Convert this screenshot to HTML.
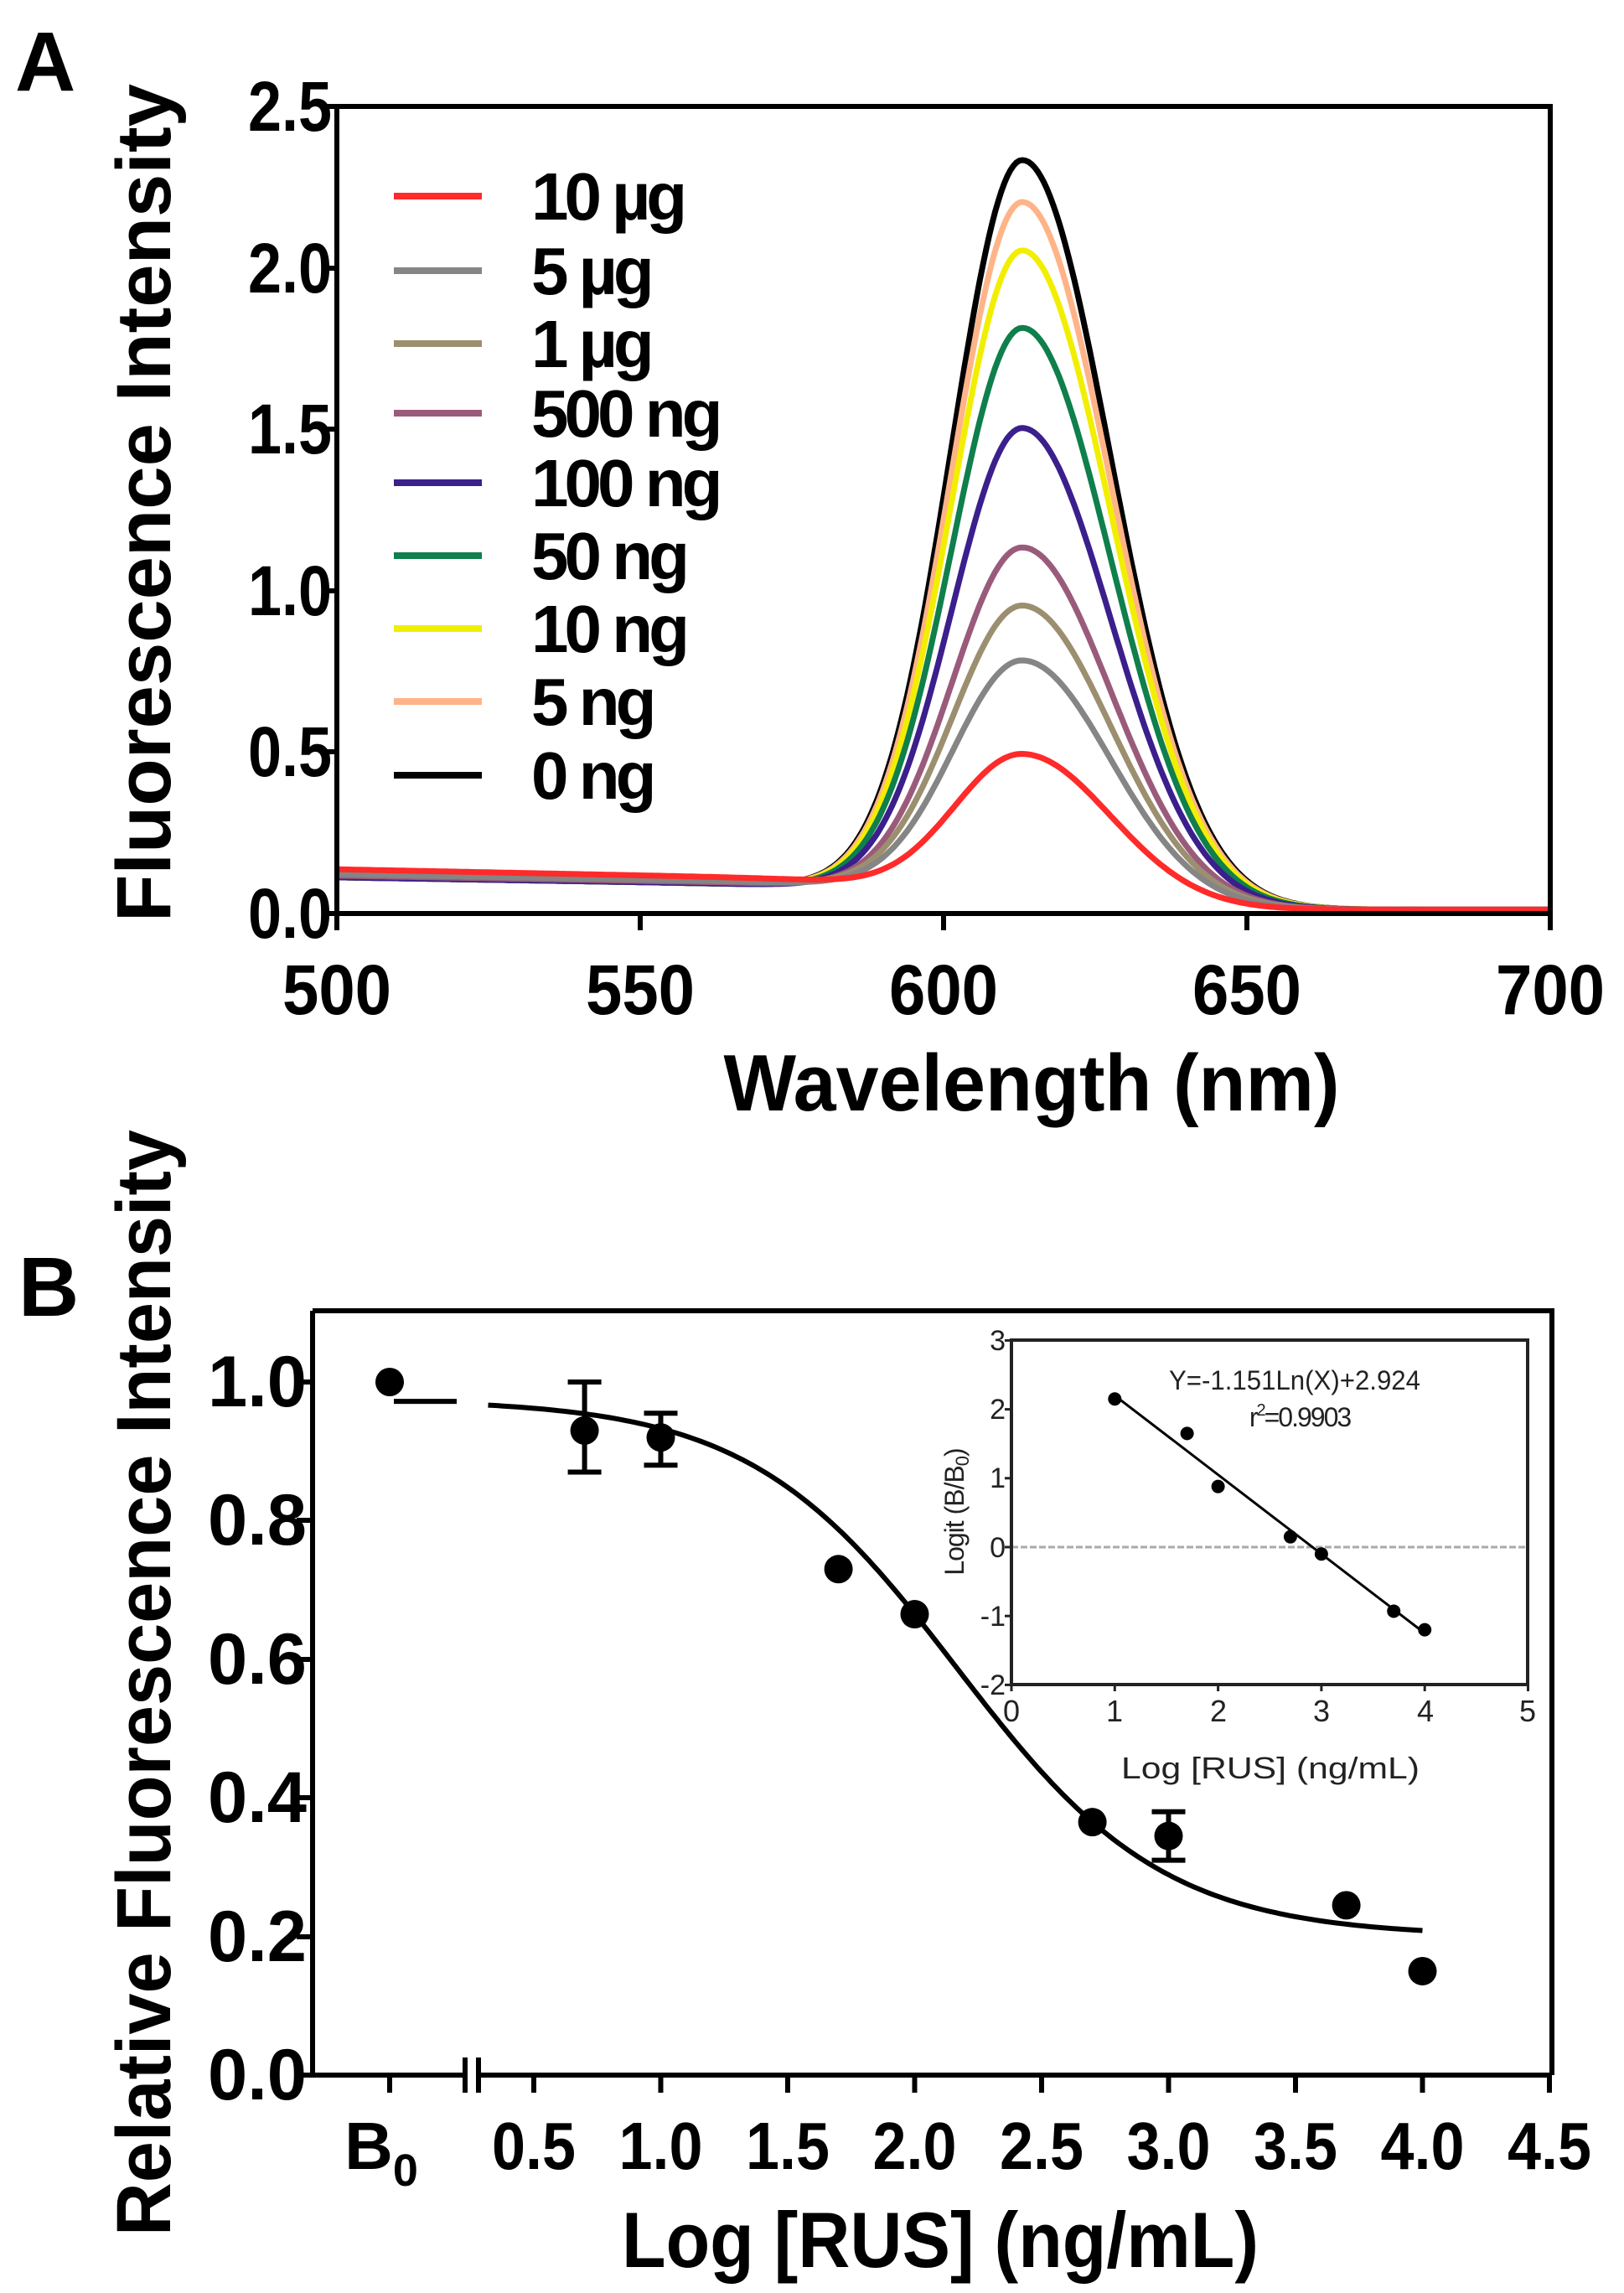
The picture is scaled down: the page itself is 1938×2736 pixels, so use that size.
<!DOCTYPE html>
<html><head><meta charset="utf-8"><style>
html,body{margin:0;padding:0;background:#fff;}
svg{display:block;}
text{font-family:"Liberation Sans",Arial,sans-serif;}
</style></head><body>
<svg id="s" xmlns="http://www.w3.org/2000/svg" width="1938" height="2736" viewBox="0 0 1938 2736">
<rect width="1938" height="2736" fill="#fff"/>
<!-- Panel A -->
<text x="18" y="108" font-size="100" font-weight="bold">A</text>
<g id="specs"></g>
<rect x="402" y="127" width="1448" height="963" fill="none" stroke="#000" stroke-width="6"/>
<g stroke="#000" stroke-width="6">
<line x1="384" y1="127" x2="402" y2="127"/><line x1="384" y1="320" x2="402" y2="320"/><line x1="384" y1="512" x2="402" y2="512"/><line x1="384" y1="705" x2="402" y2="705"/><line x1="384" y1="897" x2="402" y2="897"/><line x1="384" y1="1090" x2="402" y2="1090"/>
<line x1="402" y1="1090" x2="402" y2="1110"/><line x1="764" y1="1090" x2="764" y2="1110"/><line x1="1126" y1="1090" x2="1126" y2="1110"/><line x1="1488" y1="1090" x2="1488" y2="1110"/><line x1="1850" y1="1090" x2="1850" y2="1110"/>
</g>
<g font-size="84" font-weight="bold" text-anchor="end">
<text x="396" y="156" textLength="100" lengthAdjust="spacingAndGlyphs">2.5</text><text x="396" y="349" textLength="100" lengthAdjust="spacingAndGlyphs">2.0</text><text x="396" y="541" textLength="100" lengthAdjust="spacingAndGlyphs">1.5</text><text x="396" y="734" textLength="100" lengthAdjust="spacingAndGlyphs">1.0</text><text x="396" y="926" textLength="100" lengthAdjust="spacingAndGlyphs">0.5</text><text x="396" y="1119" textLength="100" lengthAdjust="spacingAndGlyphs">0.0</text>
</g>
<g font-size="84" font-weight="bold" text-anchor="middle">
<text x="402" y="1210" textLength="130" lengthAdjust="spacingAndGlyphs">500</text><text x="764" y="1210" textLength="130" lengthAdjust="spacingAndGlyphs">550</text><text x="1126" y="1210" textLength="130" lengthAdjust="spacingAndGlyphs">600</text><text x="1488" y="1210" textLength="130" lengthAdjust="spacingAndGlyphs">650</text><text x="1850" y="1210" textLength="130" lengthAdjust="spacingAndGlyphs">700</text>
</g>
<text x="1231" y="1325" font-size="96" font-weight="bold" text-anchor="middle" textLength="735" lengthAdjust="spacingAndGlyphs">Wavelength (nm)</text>
<text transform="translate(203,600) rotate(-90)" font-size="92" font-weight="bold" text-anchor="middle" textLength="1000" lengthAdjust="spacingAndGlyphs">Fluorescence Intensity</text>
<g id="legend" font-size="80" font-weight="bold"></g>

<!-- Panel B -->
<text x="22" y="1570" font-size="100" font-weight="bold">B</text>
<path d="M373,1564 H1852 V2476 M373,1564 V2476 H555 M571,2476 H1852" fill="none" stroke="#000" stroke-width="6"/>
<g stroke="#000" stroke-width="6">
<line x1="555" y1="2455" x2="555" y2="2497"/><line x1="571" y1="2455" x2="571" y2="2497"/>
<line x1="354" y1="2476" x2="373" y2="2476"/><line x1="354" y1="2311" x2="373" y2="2311"/><line x1="354" y1="2145" x2="373" y2="2145"/><line x1="354" y1="1980" x2="373" y2="1980"/><line x1="354" y1="1814" x2="373" y2="1814"/><line x1="354" y1="1649" x2="373" y2="1649"/>
</g>
<g id="bticks" stroke="#000" stroke-width="6"></g>
<g font-size="86" font-weight="bold" text-anchor="end">
<text x="366" y="2505" textLength="118" lengthAdjust="spacingAndGlyphs">0.0</text><text x="366" y="2340" textLength="118" lengthAdjust="spacingAndGlyphs">0.2</text><text x="366" y="2174" textLength="118" lengthAdjust="spacingAndGlyphs">0.4</text><text x="366" y="2009" textLength="118" lengthAdjust="spacingAndGlyphs">0.6</text><text x="366" y="1843" textLength="118" lengthAdjust="spacingAndGlyphs">0.8</text><text x="366" y="1678" textLength="118" lengthAdjust="spacingAndGlyphs">1.0</text>
</g>
<g font-size="80" font-weight="bold" text-anchor="middle" id="bxl">
<text x="455" y="2588">B<tspan font-size="54" dy="20">0</tspan></text>
</g>
<text x="1122" y="2705" font-size="94" font-weight="bold" text-anchor="middle" textLength="760" lengthAdjust="spacingAndGlyphs">Log [RUS] (ng/mL)</text>
<text transform="translate(203,2008) rotate(-90)" font-size="92" font-weight="bold" text-anchor="middle" textLength="1320" lengthAdjust="spacingAndGlyphs">Relative Fluorescence Intensity</text>
<g id="bdata"></g>

<!-- inset -->
<line x1="1207" y1="1846" x2="1823" y2="1846" stroke="#aaa" stroke-width="3" stroke-dasharray="8,3"/>
<rect x="1207" y="1599" width="616" height="411" fill="none" stroke="#222" stroke-width="4"/>
<g id="inset"></g>
<g font-size="34" text-anchor="end" fill="#222">
<text x="1200" y="1611">3</text><text x="1200" y="1693">2</text><text x="1200" y="1775">1</text><text x="1200" y="1858">0</text><text x="1200" y="1940">-1</text><text x="1200" y="2022">-2</text>
</g>
<g font-size="36" text-anchor="middle" fill="#222">
<text x="1207" y="2054">0</text><text x="1330" y="2054">1</text><text x="1454" y="2054">2</text><text x="1577" y="2054">3</text><text x="1701" y="2054">4</text><text x="1823" y="2054">5</text>
</g>
<text x="1516" y="2122" font-size="36" text-anchor="middle" fill="#222" textLength="356" lengthAdjust="spacingAndGlyphs">Log [RUS] (ng/mL)</text>
<text transform="translate(1150,1804) rotate(-90)" font-size="32" text-anchor="middle" fill="#222" letter-spacing="-1">Logit (B/B<tspan font-size="22" dy="6">0</tspan><tspan dy="-6">)</tspan></text>
<text x="1545" y="1658" font-size="32" text-anchor="middle" fill="#222" textLength="300" lengthAdjust="spacingAndGlyphs">Y=-1.151Ln(X)+2.924</text>
<text x="1551" y="1702" font-size="32" text-anchor="middle" fill="#222" letter-spacing="-2">r<tspan font-size="20" dy="-13">2</tspan><tspan dy="13">=0.9903</tspan></text>
</svg>
<script>
var NS="http://www.w3.org/2000/svg";
function el(p,t,a){var e=document.createElementNS(NS,t);for(var k in a)e.setAttribute(k,a[k]);p.appendChild(e);return e;}
var series=[["10 µg","#ff2a2a",0.51,0.125],["5 µg","#858585",0.80,0.11],["1 µg","#9c8f70",0.97,0.11],["500 ng","#9a5b7b",1.15,0.105],["100 ng","#3b1f8c",1.52,0.1],["50 ng","#0f7f4c",1.83,0.1],["10 ng","#f2ee00",2.07,0.1],["5 ng","#ffb488",2.22,0.1],["0 ng","#000000",2.35,0.1]];
var sp=document.getElementById("specs");
function X(w){return 402+(w-500)*1448/200;}
function Y(v){return 1090-v*385.2;}
for(var i=series.length-1;i>=0;i--){
 var s=series[i],d="";
 for(var w=500;w<=700;w+=0.5){
  var base=0.012+s[3]*(1-(w-500)*0.003)/(1+Math.exp((w-592)/6));
  var sig=w<613?11.8:14.5;
  var v=base+(s[2]-0.03)*Math.exp(-Math.pow(w-613,2)/(2*sig*sig));
  d+=(w==500?"M":"L")+X(w).toFixed(1)+","+Y(v).toFixed(1);
 }
 el(sp,"path",{d:d,fill:"none",stroke:s[1],"stroke-width":7});
}
var lg=document.getElementById("legend");
var rows=[234,323,410,493,576,663,750,837,925];
series.forEach(function(s,i){
 el(lg,"line",{x1:470,y1:rows[i],x2:575,y2:rows[i],stroke:s[1],"stroke-width":8});
 var t=el(lg,"text",{x:634,y:rows[i]+28,"letter-spacing":-5});t.textContent=s[0];
});
function BX(v){return 637+(v-0.5)*303;}
function BY(v){return 2476-v*827;}
var bt=document.getElementById("bticks"),bx=document.getElementById("bxl");
el(bt,"line",{x1:465,y1:2476,x2:465,y2:2497});
for(var k=1;k<=9;k++){var v=k*0.5;el(bt,"line",{x1:BX(v),y1:2476,x2:BX(v),y2:2497});
 var t=el(bx,"text",{x:BX(v),y:2588,textLength:100,lengthAdjust:"spacingAndGlyphs"});t.textContent=v.toFixed(1);}
var bd=document.getElementById("bdata");
function f(x){return 0.2+0.775/(1+Math.pow(10,(x-2.166)*1.063));}
var d="";for(var x=0.32;x<=4.001;x+=0.02){d+=(d?"L":"M")+BX(x).toFixed(1)+","+BY(f(x)).toFixed(1);}
el(bd,"path",{d:d,fill:"none",stroke:"#000","stroke-width":6});
el(bd,"line",{x1:470,y1:BY(0.972),x2:545,y2:BY(0.972),stroke:"#000","stroke-width":6});
var pts=[[-1,1.0],[0.7,0.93,0.87,1.0],[1.0,0.92,0.88,0.955],[1.7,0.73],[2.0,0.665],[2.7,0.365],[3.0,0.345,0.31,0.38],[3.7,0.245],[4.0,0.15]];
pts.forEach(function(p){var cx=p[0]<0?465:BX(p[0]);
 if(p.length>2){el(bd,"path",{d:"M"+cx+","+BY(p[2])+"V"+BY(p[3])+"M"+(cx-20)+","+BY(p[2])+"h40M"+(cx-20)+","+BY(p[3])+"h40",stroke:"#000","stroke-width":6,fill:"none"});}
 el(bd,"circle",{cx:cx,cy:BY(p[1]),r:17,fill:"#000"});});
var ins=document.getElementById("inset");
function IX(v){return 1207+v*123.3;}function IY(v){return 1846-v*82.2;}
el(ins,"line",{x1:IX(1),y1:IY(2.2),x2:IX(4),y2:IY(-1.25),stroke:"#000","stroke-width":3});
[[1,2.15],[1.7,1.65],[2,0.88],[2.7,0.15],[3,-0.1],[3.7,-0.93],[4,-1.2]].forEach(function(p){el(ins,"circle",{cx:IX(p[0]),cy:IY(p[1]),r:8,fill:"#000"});});
for(var k=0;k<=5;k++){el(ins,"line",{x1:IX(k),y1:2010,x2:IX(k),y2:2018,stroke:"#222","stroke-width":3});}
for(var k=-2;k<=3;k++){el(ins,"line",{x1:1199,y1:IY(k),x2:1207,y2:IY(k),stroke:"#222","stroke-width":3});}
</script>
</body></html>
